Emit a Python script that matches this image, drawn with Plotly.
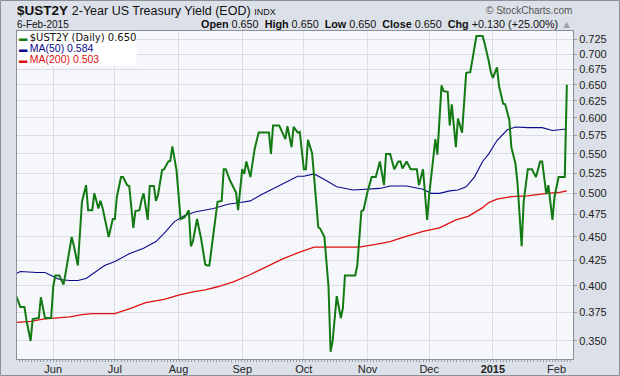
import math
import plotly.graph_objects as go

# ---------------- data ----------------
ust_dates = [
    "2014-05-14", "2014-05-16", "2014-05-18", "2014-05-19", "2014-05-21", "2014-05-22", "2014-05-25",
    "2014-05-26", "2014-05-28", "2014-05-31", "2014-06-01", "2014-06-02", "2014-06-04", "2014-06-06",
    "2014-06-07", "2014-06-10", "2014-06-11", "2014-06-13", "2014-06-15", "2014-06-17", "2014-06-18",
    "2014-06-20", "2014-06-21", "2014-06-23", "2014-06-24", "2014-06-25", "2014-06-27", "2014-06-28",
    "2014-06-30", "2014-07-01", "2014-07-02", "2014-07-04", "2014-07-05", "2014-07-07", "2014-07-08",
    "2014-07-10", "2014-07-11", "2014-07-13", "2014-07-14", "2014-07-15", "2014-07-17", "2014-07-18",
    "2014-07-20", "2014-07-21", "2014-07-22", "2014-07-24", "2014-07-25", "2014-07-27", "2014-07-28",
    "2014-07-29", "2014-07-31", "2014-08-02", "2014-08-04", "2014-08-06", "2014-08-07", "2014-08-08",
    "2014-08-10", "2014-08-12", "2014-08-14", "2014-08-15", "2014-08-16", "2014-08-18", "2014-08-20",
    "2014-08-22", "2014-08-23", "2014-08-24", "2014-08-26", "2014-08-29", "2014-08-30", "2014-09-01",
    "2014-09-02", "2014-09-03", "2014-09-05", "2014-09-07", "2014-09-09", "2014-09-14", "2014-09-15",
    "2014-09-16", "2014-09-19", "2014-09-22", "2014-09-23", "2014-09-25", "2014-09-26", "2014-09-28",
    "2014-09-29", "2014-10-01", "2014-10-02", "2014-10-03", "2014-10-05", "2014-10-06", "2014-10-08",
    "2014-10-09", "2014-10-11", "2014-10-13", "2014-10-14", "2014-10-15", "2014-10-17", "2014-10-19",
    "2014-10-20", "2014-10-21", "2014-10-26", "2014-10-27", "2014-10-29", "2014-10-30", "2014-11-01",
    "2014-11-03", "2014-11-05", "2014-11-07", "2014-11-09", "2014-11-10", "2014-11-12", "2014-11-14",
    "2014-11-16", "2014-11-17", "2014-11-18", "2014-11-20", "2014-11-22", "2014-11-25", "2014-11-26",
    "2014-11-28", "2014-11-30", "2014-12-01", "2014-12-03", "2014-12-04", "2014-12-05", "2014-12-07",
    "2014-12-08", "2014-12-10", "2014-12-11", "2014-12-12", "2014-12-14", "2014-12-15", "2014-12-17",
    "2014-12-19", "2014-12-21", "2014-12-23", "2014-12-24", "2014-12-27", "2014-12-28", "2014-12-30",
    "2014-12-31", "2015-01-01", "2015-01-03", "2015-01-04", "2015-01-06", "2015-01-07", "2015-01-09",
    "2015-01-10", "2015-01-12", "2015-01-13", "2015-01-15", "2015-01-16", "2015-01-18", "2015-01-20",
    "2015-01-22", "2015-01-24", "2015-01-25", "2015-01-27", "2015-01-28", "2015-01-30", "2015-01-31",
    "2015-02-02", "2015-02-05", "2015-02-06",
]
ust_values = [
    0.390, 0.380, 0.380, 0.368, 0.350, 0.369, 0.370,
    0.389, 0.370, 0.370, 0.399, 0.410, 0.410, 0.401,
    0.412, 0.450, 0.441, 0.420, 0.490, 0.510, 0.480,
    0.480, 0.500, 0.482, 0.491, 0.483, 0.461, 0.450,
    0.470, 0.470, 0.496, 0.520, 0.520, 0.510, 0.509,
    0.460, 0.479, 0.480, 0.492, 0.500, 0.469, 0.509,
    0.509, 0.491, 0.498, 0.529, 0.530, 0.540, 0.541,
    0.560, 0.529, 0.470, 0.472, 0.480, 0.440, 0.445,
    0.470, 0.448, 0.421, 0.420, 0.420, 0.456, 0.490,
    0.491, 0.530, 0.530, 0.516, 0.501, 0.480, 0.530,
    0.524, 0.540, 0.520, 0.556, 0.579, 0.579, 0.550,
    0.589, 0.589, 0.570, 0.588, 0.559, 0.587, 0.579,
    0.580, 0.530, 0.530, 0.569, 0.551, 0.520, 0.461,
    0.459, 0.450, 0.399, 0.341, 0.350, 0.390, 0.370,
    0.379, 0.410, 0.410, 0.420, 0.479, 0.480, 0.502,
    0.520, 0.520, 0.540, 0.510, 0.550, 0.550, 0.530,
    0.540, 0.540, 0.531, 0.540, 0.530, 0.530, 0.510,
    0.530, 0.469, 0.498, 0.551, 0.570, 0.549, 0.649,
    0.640, 0.639, 0.589, 0.620, 0.559, 0.599, 0.579,
    0.669, 0.670, 0.712, 0.731, 0.731, 0.718, 0.688,
    0.670, 0.661, 0.678, 0.648, 0.621, 0.620, 0.597,
    0.559, 0.537, 0.512, 0.440, 0.490, 0.530, 0.530,
    0.520, 0.540, 0.540, 0.499, 0.510, 0.469, 0.496,
    0.520, 0.520, 0.650,
]

ma50_dates = [
    "2014-05-14", "2014-05-16", "2014-05-24", "2014-05-28", "2014-05-31", "2014-06-04", "2014-06-09",
    "2014-06-13", "2014-06-17", "2014-06-21", "2014-06-26", "2014-07-01", "2014-07-08", "2014-07-15",
    "2014-07-21", "2014-07-25", "2014-07-30", "2014-08-04", "2014-08-09", "2014-08-18", "2014-08-25",
    "2014-08-31", "2014-09-05", "2014-09-10", "2014-09-14", "2014-09-19", "2014-09-24", "2014-09-28",
    "2014-10-01", "2014-10-06", "2014-10-11", "2014-10-17", "2014-10-25", "2014-10-31", "2014-11-07",
    "2014-11-12", "2014-11-20", "2014-11-28", "2014-12-02", "2014-12-06", "2014-12-11", "2014-12-15",
    "2014-12-19", "2014-12-23", "2014-12-27", "2014-12-30", "2015-01-03", "2015-01-08", "2015-01-12",
    "2015-01-18", "2015-01-25", "2015-01-30", "2015-02-06",
]
ma50_values = [
    0.412, 0.414, 0.413, 0.413, 0.410, 0.406, 0.405,
    0.405, 0.407, 0.413, 0.420, 0.424, 0.432, 0.438,
    0.445, 0.454, 0.467, 0.474, 0.478, 0.482, 0.487,
    0.489, 0.491, 0.498, 0.503, 0.509, 0.515, 0.521,
    0.521, 0.524, 0.517, 0.508, 0.504, 0.505, 0.506,
    0.509, 0.509, 0.505, 0.500, 0.500, 0.503, 0.504,
    0.508, 0.520, 0.540, 0.550, 0.568, 0.583, 0.587,
    0.586, 0.586, 0.582, 0.584,
]

ma200_dates = [
    "2014-05-14", "2014-05-21", "2014-05-27", "2014-06-02", "2014-06-09", "2014-06-15", "2014-06-20",
    "2014-06-25", "2014-07-01", "2014-07-09", "2014-07-16", "2014-07-25", "2014-08-01", "2014-08-08",
    "2014-08-14", "2014-08-20", "2014-08-28", "2014-09-05", "2014-09-13", "2014-09-21", "2014-09-28",
    "2014-10-01", "2014-10-06", "2014-10-11", "2014-10-28", "2014-11-05", "2014-11-12", "2014-11-19",
    "2014-11-28", "2014-12-06", "2014-12-14", "2014-12-20", "2014-12-27", "2014-12-30", "2015-01-03",
    "2015-01-10", "2015-01-18", "2015-01-27", "2015-02-02", "2015-02-06",
]
ma200_values = [
    0.366, 0.367, 0.369, 0.370, 0.371, 0.373, 0.374,
    0.374, 0.374, 0.379, 0.384, 0.387, 0.391, 0.394,
    0.396, 0.399, 0.404, 0.411, 0.419, 0.427, 0.433,
    0.435, 0.439, 0.439, 0.439, 0.442, 0.445, 0.450,
    0.456, 0.460, 0.469, 0.473, 0.483, 0.489, 0.493,
    0.496, 0.497, 0.500, 0.501, 0.503,
]

y_tick_values = [0.350, 0.375, 0.400, 0.425, 0.450, 0.475, 0.500, 0.525, 0.550,
                 0.575, 0.600, 0.625, 0.650, 0.675, 0.700, 0.725]
x_tick_dates = ["2014-06-01", "2014-07-01", "2014-08-01", "2014-09-01", "2014-10-01",
                "2014-11-01", "2014-12-01", "2015-01-01", "2015-02-01"]
x_tick_labels = ["Jun", "Jul", "Aug", "Sep", "Oct", "Nov", "Dec", "<b>2015</b>", "Feb"]

symbol = "$UST2Y"
title_text = "2-Year US Treasury Yield (EOD)"
last_date = "6-Feb-2015"
q_open, q_high, q_low, q_close = 0.650, 0.650, 0.650, 0.650
q_chg, q_chg_pct = 0.130, 25.00
ma50_last, ma200_last = 0.584, 0.503

# ---------------- styling / layout ----------------
W, H = 620, 376
L, R, T, B = 17, 573, 31, 359
PW, PH = R - L, B - T

GREEN = "#137a13"
NAVY = "#0a0a8c"
RED = "#e01010"
FONT = "Liberation Sans, Arial, sans-serif"


def fx(px):
    return (px - L) / PW


def fy(py):
    return (B - py) / PH


fig = go.Figure()
fig.add_trace(go.Scatter(x=ma200_dates, y=ma200_values, mode="lines",
                         line=dict(color=RED, width=1.3), name="MA(200)", hoverinfo="skip"))
fig.add_trace(go.Scatter(x=ma50_dates, y=ma50_values, mode="lines",
                         line=dict(color=NAVY, width=1.1), name="MA(50)", hoverinfo="skip"))
fig.add_trace(go.Scatter(x=ust_dates, y=ust_values, mode="lines",
                         line=dict(color=GREEN, width=2), name=symbol))

grid_c = "#dadde4"
fig.update_layout(
    width=W, height=H, autosize=False,
    margin=dict(l=L, r=W - R, t=T, b=H - B, pad=0, autoexpand=False),
    paper_bgcolor="#dce0e8",
    plot_bgcolor="#f6f7fb",
    showlegend=False,
    font=dict(family=FONT, size=11, color="#222"),
    xaxis=dict(
        type="date", automargin=False,
        range=["2014-05-14 09:00", "2015-02-09 00:00"],
        tickmode="array", tickvals=x_tick_dates, ticktext=x_tick_labels,
        showgrid=True, gridcolor=grid_c, gridwidth=1,
        showline=True, linecolor="#8a8f99", linewidth=1, mirror=True,
        ticks="",
        minor=dict(ticks="outside", ticklen=2, tickcolor="#9aa0aa",
                   dtick=86400000 * 1.5, tick0="2014-05-14", showgrid=False),
        tickfont=dict(family=FONT, size=11, color="#222"),
        zeroline=False, fixedrange=True,
    ),
    yaxis=dict(
        type="log", automargin=False,
        range=[math.log10(0.3351), math.log10(0.7401)],
        side="right",
        tickmode="array", tickvals=y_tick_values,
        ticktext=["%.3f" % v for v in y_tick_values],
        showgrid=True, gridcolor=grid_c, gridwidth=1,
        showline=True, linecolor="#8a8f99", linewidth=1, mirror=True,
        ticks="outside", ticklen=3, tickcolor="#9aa0aa",
        tickfont=dict(family=FONT, size=11, color="#222"),
        zeroline=False, fixedrange=True,
    ),
)

ann = []
# title
ann.append(dict(
    x=fx(15), y=fy(10), xref="paper", yref="paper", xanchor="left", yanchor="middle",
    showarrow=False,
    text=("<b>%s</b> <span style='font-size:12.5px'>%s</span> "
          "<span style='font-size:9px'>INDX</span>") % (symbol, title_text),
    font=dict(family=FONT, size=13.5, color="#111"),
))
ann.append(dict(
    x=fx(15), y=fy(24), xref="paper", yref="paper", xanchor="left", yanchor="middle",
    showarrow=False, text=last_date, font=dict(family=FONT, size=10, color="#111"),
))
ann.append(dict(
    x=fx(574), y=fy(10), xref="paper", yref="paper", xanchor="right", yanchor="middle",
    showarrow=False, text="© StockCharts.com", font=dict(family=FONT, size=10, color="#555"),
))
hdr = ("<b>Open</b> %.3f  <b>High</b> %.3f  <b>Low</b> %.3f  <b>Close</b> %.3f  "
       "<b>Chg</b> +%.3f (+%.2f%%) <span style='color:#9aa0aa'>▲</span>") % (
    q_open, q_high, q_low, q_close, q_chg, q_chg_pct)
ann.append(dict(
    x=fx(574), y=fy(24), xref="paper", yref="paper", xanchor="right", yanchor="middle",
    showarrow=False, text=hdr, font=dict(family=FONT, size=10.8, color="#111"),
))
# legend (one box, three lines)
legend_text = "<br>".join([
    ("<span style='color:%s'>▬</span> <span style='font-family:DejaVu Sans;font-size:10px;color:#111'>"
     "%s (Daily) %.3f</span>") % (GREEN, symbol, q_close),
    ("<span style='color:%s'>▬</span> <span style='font-size:10.5px;color:%s'>MA(50) %.3f</span>")
    % (NAVY, NAVY, ma50_last),
    ("<span style='color:%s'>▬</span> <span style='font-size:10.5px;color:%s'>MA(200) %.3f</span>")
    % (RED, RED, ma200_last),
])
ann.append(dict(
    x=fx(18), y=fy(31), xref="paper", yref="paper", xanchor="left", yanchor="top",
    align="left", showarrow=False, text=legend_text, bgcolor="white", borderpad=0,
    font=dict(family=FONT, size=8.4, color="#111"),
))
fig.update_layout(annotations=ann)

# outer frame around the whole image
fig.add_shape(type="rect", xref="paper", yref="paper",
              x0=fx(0.5), x1=fx(W - 0.5), y0=fy(H - 0.5), y1=fy(0.5),
              line=dict(color="#8c9099", width=1), fillcolor="rgba(0,0,0,0)", layer="below")

fig.write_html("out.html", config={"displayModeBar": False},
               post_script="document.body.style.margin='0';document.body.style.padding='0';")
